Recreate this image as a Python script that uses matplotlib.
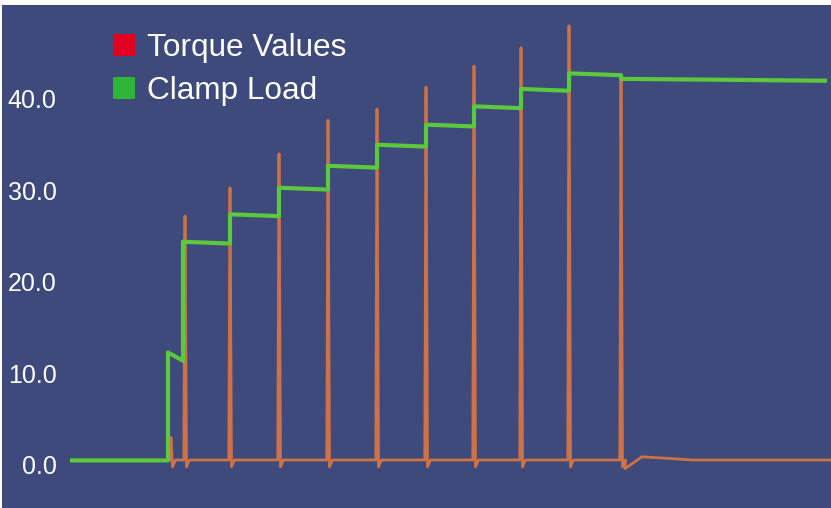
import matplotlib
matplotlib.use("Agg")
import matplotlib.pyplot as plt
from matplotlib.patches import Patch, Rectangle

plt.rcParams['font.family'] = ['Liberation Sans', 'DejaVu Sans']

# --- data ------------------------------------------------------------------
# Clamp load: one level per tightening step (start value, end value)
step_starts = [0.0, 9.6, 11.1, 15.8, 20.7, 25.6, 30.5, 35.4, 40.2, 44.9, 49.7, 54.9]
step_ends = [9.6, 11.1, 15.8, 20.7, 25.6, 30.5, 35.4, 40.2, 44.9, 49.7, 54.9, 75.3]
load_first = [0.5, 12.3, 24.4, 27.4, 30.3, 32.7, 35.0, 37.2, 39.2, 41.1, 42.8, 42.2]
load_last = [0.5, 11.4, 24.2, 27.2, 30.1, 32.5, 34.8, 37.0, 39.0, 40.9, 42.6, 42.0]

# Torque: spike times and peak values, on a flat baseline
spike_times = [9.9, 11.3, 15.8, 20.7, 25.6, 30.5, 35.4, 40.2, 44.9, 49.7, 54.9]
spike_peaks = [3.0, 27.2, 30.3, 34.0, 37.7, 38.9, 41.3, 43.6, 45.6, 48.0, 42.6]
torque_base = 0.55
torque_dip = -0.2
settle_times = [55.3, 57.0, 60.0, 62.0, 75.9]
settle_values = [-0.4, 0.9, 0.7, 0.55, 0.55]

y_ticks = [0, 10, 20, 30, 40]
series_names = ["Torque Values", "Clamp Load"]

# --- build the curves --------------------------------------------------------
load_t, load_v = [], []
for s, e, a, b in zip(step_starts, step_ends, load_first, load_last):
    load_t += [s, e]
    load_v += [a, b]

torque_t, torque_v = [spike_times[0] - 0.3], [torque_base]
for t, p in zip(spike_times, spike_peaks):
    torque_t += [t - 0.12, t, t + 0.15, t + 0.45]
    torque_v += [torque_base, p, torque_dip, torque_base]
torque_t += settle_times
torque_v += settle_values

# --- figure ------------------------------------------------------------------
W, H = 831, 508
bg = "#3d4a7b"
fig = plt.figure(figsize=(W / 100, H / 100), dpi=100, facecolor="white")
fig.patches.append(Rectangle((2 / W, 0), 1 - 2 / W, (H - 5) / H,
                             transform=fig.transFigure, facecolor=bg,
                             edgecolor="none", zorder=-10))

ax = fig.add_axes([62 / W, 0, 1 - 62 / W, (H - 5) / H])
ax.set_facecolor("none")
ax.set_xlim(-1.0, 75.9)
px_per_unit = 9.15
ax.set_ylim(-(H - 465) / px_per_unit, (465 - 5) / px_per_unit)

ax.plot(torque_t, torque_v, color="#e8793e", lw=2.0, alpha=0.85,
        solid_joinstyle="round", zorder=2)
ax.plot(load_t, load_v, color="#5cc83b", lw=3.0, solid_joinstyle="round",
        zorder=3)

for sp in ax.spines.values():
    sp.set_visible(False)
ax.set_xticks([])
ax.set_yticks(y_ticks)
ax.set_yticklabels([f"{v:.1f}" for v in y_ticks])
ax.tick_params(axis="y", length=0, pad=4, labelsize=18, labelcolor="white")

handles = [Patch(facecolor="#e0001f", edgecolor="none"),
           Patch(facecolor="#2db536", edgecolor="none")]
ax.legend(handles, series_names, loc="upper left",
          bbox_to_anchor=(113 / W, 1 - 33 / H), bbox_transform=fig.transFigure,
          frameon=False, fontsize=22.7, labelcolor="white",
          handlelength=0.7, handleheight=0.7, handletextpad=0.38,
          labelspacing=0.4, borderpad=0, borderaxespad=0)

fig.savefig("out.png", dpi=100, facecolor=fig.get_facecolor())
